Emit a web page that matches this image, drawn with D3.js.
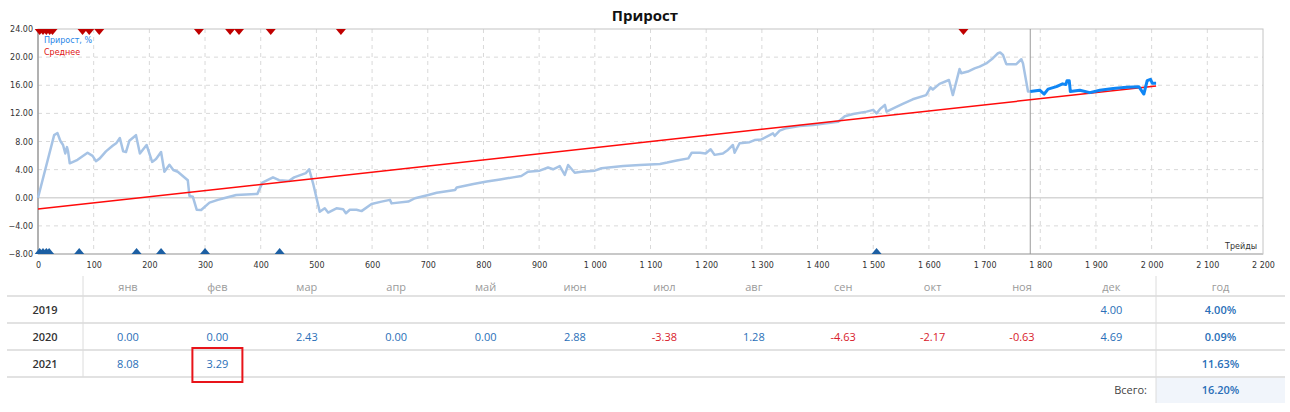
<!DOCTYPE html>
<html><head><meta charset="utf-8">
<script src="https://cdn.jsdelivr.net/npm/d3@7"></script>
<style>body{margin:0;background:#fff}svg{display:block}</style>
</head><body><svg id="c" width="1290" height="412"></svg>
<script>
// ---- data ----
const title = "Прирост";
const legendLabels = ["Прирост, %", "Среднее"];
const xAxisLabel = "Трейды";
const xTicks = d3.range(0, 2201, 100);
const yTicks = [-8, -4, 0, 4, 8, 12, 16, 20, 24];

const histTrades = [0,29,35,40,45,49,52,54,57,71,89,98,104,111,122,134,141,147,153,158,164,176,183,195,205,212,221,227,236,243,251,269,272,278,285,293,308,323,332,356,394,403,422,433,451,460,481,487,494,506,515,521,536,548,553,560,572,581,599,617,632,635,665,677,701,716,749,752,782,806,830,853,868,880,901,916,925,937,946,952,964,976,1000,1012,1051,1081,1117,1130,1147,1168,1174,1189,1199,1208,1215,1230,1239,1248,1251,1260,1278,1287,1299,1314,1320,1323,1332,1344,1368,1392,1416,1437,1449,1464,1488,1500,1506,1512,1521,1524,1536,1553,1571,1595,1603,1607,1619,1636,1643,1655,1658,1670,1682,1691,1703,1715,1724,1728,1733,1739,1757,1766,1769,1778,1782];
const histValues = [0,8.9,9.2,8.1,7.5,6.3,7.2,6.6,4.9,5.4,6.4,5.95,5.2,5.6,6.6,7.4,7.8,8.5,6.6,6.5,8.1,8.9,6.3,7.5,5.1,5.5,6.5,3.7,4.7,3.95,3.7,2.5,0.25,0.15,-1.7,-1.75,-0.7,-0.3,-0.1,0.4,0.55,2.15,2.9,2.5,2.4,2.9,3.5,4.05,2.05,-2.0,-1.5,-2.1,-1.5,-1.65,-2.2,-1.7,-1.7,-1.9,-0.9,-0.55,-0.3,-0.8,-0.55,-0.07,0.4,0.7,1.1,1.45,1.95,2.3,2.6,2.9,3.1,3.7,3.85,4.3,4.05,4.5,3.25,4.65,3.55,3.7,3.85,4.2,4.5,4.65,4.8,5.0,5.3,5.6,6.4,6.4,6.3,6.9,6.1,6.3,6.8,7.5,6.4,7.75,7.9,8.2,8.3,8.9,9.15,8.8,9.55,9.9,10.2,10.35,10.6,10.8,11.6,11.9,12.25,12.5,12.0,12.6,13.2,12.25,12.7,13.35,14.0,14.6,15.7,15.4,16.2,16.75,14.6,18.3,17.7,17.95,18.4,18.65,19.1,19.85,20.55,20.65,20.3,19.0,19.0,19.7,19.1,15.1,15.1];

const liveTrades = [1782,1799,1807,1814,1829,1840,1846,1848,1852,1854,1871,1889,1907,1931,1955,1977,1986,1992,1998,2001,2008];
const liveValues = [15.1,15.3,14.75,15.45,15.8,16.2,16.1,16.65,16.65,15.1,15.3,14.95,15.3,15.55,15.7,15.8,14.75,16.65,16.85,16.3,16.3];

const avgTrades = [0, 2008];
const avgValues = [-1.6, 15.9];

const separatorTrade = 1782;
const topMarkTrades = [3, 9, 15, 21, 26, 80, 92, 110, 289, 345, 361, 418, 544, 1662];
const bottomMarkTrades = [3, 9, 15, 20, 74, 177, 221, 300, 434, 1506];

const months = ["янв","фев","мар","апр","май","июн","июл","авг","сен","окт","ноя","дек"];
const years = ["2019", "2020", "2021"];
const values2019 = [null,null,null,null,null,null,null,null,null,null,null,4.00];
const values2020 = [0.00,0.00,2.43,0.00,0.00,2.88,-3.38,1.28,-4.63,-2.17,-0.63,4.69];
const values2021 = [8.08,3.29,null,null,null,null,null,null,null,null,null,null];
const yearTotals = ["4.00%", "0.09%", "11.63%"];
const yearHeader = "год";
const totalLabel = "Всего:";
const totalValue = "16.20%";
const highlight = {row: 2, col: 1};

// ---- chart ----
const svg = d3.select("#c");
const L = 38, R = 1263, T = 29, B = 254;
const x = d3.scaleLinear().domain([0, 2200]).range([L, R]);
const y = d3.scaleLinear().domain([-8, 24]).range([B, T]);
const locale = d3.formatLocale({decimal: ".", thousands: "\u00a0", grouping: [3], currency: ["", ""]});
const fmtX = locale.format(",");
const fmtY = d3.format(".2f");
const tickFont = "DejaVu Sans, sans-serif";

svg.append("text").attr("x", 645).attr("y", 21).attr("text-anchor", "middle")
  .attr("font-family", "Open Sans, sans-serif").attr("font-weight", 700).attr("font-size", 15)
  .attr("fill", "#111").text(title);

const grid = svg.append("g");
grid.selectAll("line.vx").data(xTicks.filter(d => d > 0 && d < 2200)).enter().append("line")
  .attr("x1", d => x(d)).attr("x2", d => x(d)).attr("y1", T).attr("y2", B)
  .attr("stroke", "#d9d9d9").attr("stroke-dasharray", "4,4");
grid.selectAll("line.hy").data(yTicks.filter(d => d !== 0 && d > -8 && d < 24)).enter().append("line")
  .attr("x1", L).attr("x2", R).attr("y1", d => y(d)).attr("y2", d => y(d))
  .attr("stroke", "#d9d9d9").attr("stroke-dasharray", "4,4");
// zero line
svg.append("line").attr("x1", L).attr("x2", R).attr("y1", y(0)).attr("y2", y(0))
  .attr("stroke", "#d6d6d6").attr("stroke-width", 1.5);
// frame
svg.append("rect").attr("x", L).attr("y", T).attr("width", R - L).attr("height", B - T)
  .attr("fill", "none").attr("stroke", "#c4c4c4").attr("stroke-width", 1);
svg.append("line").attr("x1", L).attr("x2", L).attr("y1", T).attr("y2", B)
  .attr("stroke", "#a0a0a0").attr("stroke-width", 1.5);
svg.append("line").attr("x1", L).attr("x2", R).attr("y1", B).attr("y2", B)
  .attr("stroke", "#c8c8c8").attr("stroke-width", 2);

// axes labels
const yAxis = svg.append("g").attr("transform", `translate(${L},0)`)
  .call(d3.axisLeft(y).tickValues(yTicks).tickFormat(fmtY).tickSize(0).tickPadding(5));
yAxis.select(".domain").remove();
yAxis.selectAll("text").attr("font-family", tickFont).attr("font-size", 8).attr("fill", "#333");
const xAxis = svg.append("g").attr("transform", `translate(0,${B})`)
  .call(d3.axisBottom(x).tickValues(xTicks).tickFormat(fmtX).tickSize(0).tickPadding(8));
xAxis.select(".domain").remove();
xAxis.selectAll("text").attr("font-family", tickFont).attr("font-size", 8).attr("fill", "#333");

svg.append("text").attr("x", R - 6).attr("y", B - 5).attr("text-anchor", "end")
  .attr("font-family", tickFont).attr("font-size", 8).attr("fill", "#333").text(xAxisLabel);

// separator
svg.append("line").attr("x1", x(separatorTrade)).attr("x2", x(separatorTrade)).attr("y1", T).attr("y2", B)
  .attr("stroke", "#9a9a9a").attr("stroke-width", 1);

const line = d3.line().x(d => x(d[0])).y(d => y(d[1]));
svg.append("path").datum(histTrades.map((t, i) => [t, histValues[i]]))
  .attr("d", line).attr("fill", "none").attr("stroke", "#a6c3e5").attr("stroke-width", 2.5)
  .attr("stroke-linejoin", "round");
svg.append("path").datum(avgTrades.map((t, i) => [t, avgValues[i]]))
  .attr("d", line).attr("fill", "none").attr("stroke", "#ff0a0a").attr("stroke-width", 1.5);
svg.append("path").datum(liveTrades.map((t, i) => [t, liveValues[i]]))
  .attr("d", line).attr("fill", "none").attr("stroke", "#0f86f5").attr("stroke-width", 3)
  .attr("stroke-linejoin", "round");

// markers
svg.selectAll("path.top").data(topMarkTrades).enter().append("path")
  .attr("d", d => `M${x(d) - 5},${T} L${x(d) + 5},${T} L${x(d)},${T + 6} Z`)
  .attr("fill", "#c00000");
svg.selectAll("path.bot").data(bottomMarkTrades).enter().append("path")
  .attr("d", d => `M${x(d) - 5},${B} L${x(d) + 5},${B} L${x(d)},${B - 6} Z`)
  .attr("fill", "#1c5fa3");

// legend
svg.append("text").attr("x", L + 6).attr("y", 43).attr("font-family", tickFont).attr("font-size", 8)
  .attr("fill", "#2a86e8").text(legendLabels[0]);
svg.append("text").attr("x", L + 6).attr("y", 55).attr("font-family", tickFont).attr("font-size", 8)
  .attr("fill", "#e01010").text(legendLabels[1]);

// ---- table ----
const tFont = "Open Sans, sans-serif";
const colX = d3.scaleLinear().domain([0, 11]).range([128, 1111.4]);
const tL = 7, tR = 1285, sepL = 83, sepR = 1156;
const rowLines = [296, 323, 350, 377];
const rowY = [310, 337, 364];

svg.append("rect").attr("x", sepR).attr("y", 377).attr("width", tR - sepR).attr("height", 26).attr("fill", "#f1f5fb");
rowLines.forEach(ly => svg.append("line").attr("x1", tL).attr("x2", tR).attr("y1", ly).attr("y2", ly)
  .attr("stroke", "#e2e2e2").attr("stroke-width", 2));
svg.append("line").attr("x1", sepL).attr("x2", sepL).attr("y1", 276).attr("y2", 377).attr("stroke", "#dcdcdc");
svg.append("line").attr("x1", sepR).attr("x2", sepR).attr("y1", 276).attr("y2", 403).attr("stroke", "#dcdcdc");

svg.selectAll("text.mh").data(months).enter().append("text")
  .attr("x", (d, i) => colX(i)).attr("y", 291).attr("text-anchor", "middle")
  .attr("font-family", tFont).attr("font-size", 11).attr("fill", "#9a9a9a").text(d => d);
svg.append("text").attr("x", (sepR + tR) / 2).attr("y", 291).attr("text-anchor", "middle")
  .attr("font-family", tFont).attr("font-size", 11).attr("fill", "#9a9a9a").text(yearHeader);

const rows = [values2019, values2020, values2021];
years.forEach((yr, r) => {
  svg.append("text").attr("x", 45).attr("y", rowY[r] + 4).attr("text-anchor", "middle")
    .attr("font-family", tFont).attr("font-size", 11).attr("font-weight", 600).attr("fill", "#333").text(yr);
  svg.selectAll(null).data(rows[r].map((v, i) => ({v, i})).filter(d => d.v !== null)).enter().append("text")
    .attr("x", d => colX(d.i)).attr("y", rowY[r] + 4).attr("text-anchor", "middle")
    .attr("font-family", tFont).attr("font-size", 11)
    .attr("fill", d => d.v < 0 ? "#d8202a" : "#2a6fb8").text(d => d.v.toFixed(2));
  svg.append("text").attr("x", (sepR + tR) / 2).attr("y", rowY[r] + 4).attr("text-anchor", "middle")
    .attr("font-family", tFont).attr("font-size", 11).attr("font-weight", 600).attr("fill", "#2a6fb8").text(yearTotals[r]);
});
svg.append("text").attr("x", 1147).attr("y", 394).attr("text-anchor", "end")
  .attr("font-family", tFont).attr("font-size", 11).attr("fill", "#444").text(totalLabel);
svg.append("text").attr("x", (sepR + tR) / 2).attr("y", 394).attr("text-anchor", "middle")
  .attr("font-family", tFont).attr("font-size", 11).attr("font-weight", 600).attr("fill", "#2a6fb8").text(totalValue);

// highlight box
svg.append("rect").attr("x", colX(highlight.col) - 25).attr("y", rowY[highlight.row] - 16)
  .attr("width", 50).attr("height", 34).attr("fill", "none").attr("stroke", "#e8141a").attr("stroke-width", 2);
</script></body></html>
